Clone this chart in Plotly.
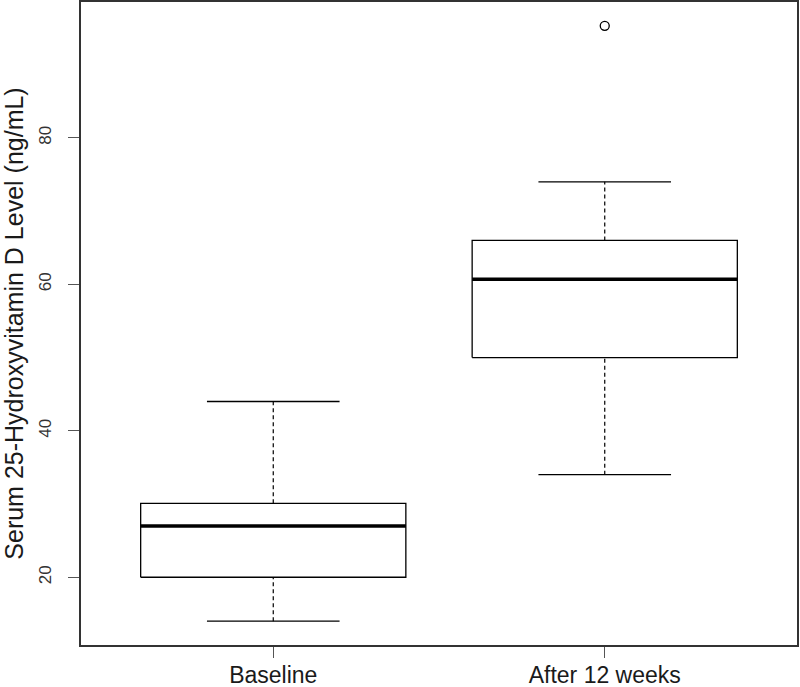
import plotly.graph_objects as go

# boxplot summary
groups = ["Baseline", "After 12 weeks"]
positions = [1, 2]
lower_whisker = [14, 34]
q1 = [20, 50]
median = [27, 60.7]
q3 = [30.1, 66]
upper_whisker = [44, 74]
outlier_x = [2]
outlier_y = [95.3]

box_w = 0.8
cap_w = 0.4
col = "black"

fig = go.Figure()

for p, lo, a, m, b, hi in zip(positions, lower_whisker, q1, median, q3, upper_whisker):
    # box
    fig.add_trace(go.Scatter(
        x=[p - box_w / 2, p + box_w / 2, p + box_w / 2, p - box_w / 2, p - box_w / 2],
        y=[a, a, b, b, a], mode="lines", line=dict(color=col, width=1.3),
        hoverinfo="skip"))
    # median
    fig.add_trace(go.Scatter(
        x=[p - box_w / 2, p + box_w / 2], y=[m, m], mode="lines",
        line=dict(color=col, width=3.5), hoverinfo="skip"))
    # whiskers (dashed)
    fig.add_trace(go.Scatter(x=[p, p], y=[lo, a], mode="lines",
                             line=dict(color=col, width=1.2, dash="4px,3px"), hoverinfo="skip"))
    fig.add_trace(go.Scatter(x=[p, p], y=[b, hi], mode="lines",
                             line=dict(color=col, width=1.2, dash="4px,3px"), hoverinfo="skip"))
    # caps
    fig.add_trace(go.Scatter(x=[p - cap_w / 2, p + cap_w / 2], y=[lo, lo], mode="lines",
                             line=dict(color=col, width=1.3), hoverinfo="skip"))
    fig.add_trace(go.Scatter(x=[p - cap_w / 2, p + cap_w / 2], y=[hi, hi], mode="lines",
                             line=dict(color=col, width=1.3), hoverinfo="skip"))

fig.add_trace(go.Scatter(x=outlier_x, y=outlier_y, mode="markers",
                         marker=dict(symbol="circle-open", size=9, color=col, line=dict(width=1.3))))

ymin = min(lower_whisker)
ymax = max(outlier_y)
pad = (ymax - ymin) * 0.04

fig.update_layout(
    width=800, height=687,
    margin=dict(l=81, r=3, t=2, b=42),
    plot_bgcolor="white", paper_bgcolor="white",
    showlegend=False,
    font=dict(family="Liberation Sans, Arial, sans-serif", color="#1a1a1a"),
    xaxis=dict(
        range=[0.42, 2.58], tickvals=positions, ticktext=groups,
        showgrid=False, zeroline=False, showline=True, mirror=True,
        linecolor="#333", linewidth=2, ticks="outside", ticklen=11,
        tickcolor="#555", tickfont=dict(size=23), ticklabelstandoff=-3,
        automargin=False,
    ),
    yaxis=dict(
        range=[ymin - pad, ymax + pad], tickvals=[20, 40, 60, 80],
        showgrid=False, zeroline=False, showline=True, mirror=True,
        linecolor="#333", linewidth=2, ticks="outside", ticklen=11,
        tickcolor="#555", tickfont=dict(size=17, color="#333"), tickangle=-90,
        ticklabelstandoff=10, automargin=False,
        title=dict(text="Serum 25-Hydroxyvitamin D Level (ng/mL)",
                   font=dict(size=25), standoff=5),
    ),
)

# drop the page's default body margin so the figure sits at the window's corner
fig.write_html("out.html", config={"displayModeBar": False},
               post_script="document.body.style.margin='0';")
